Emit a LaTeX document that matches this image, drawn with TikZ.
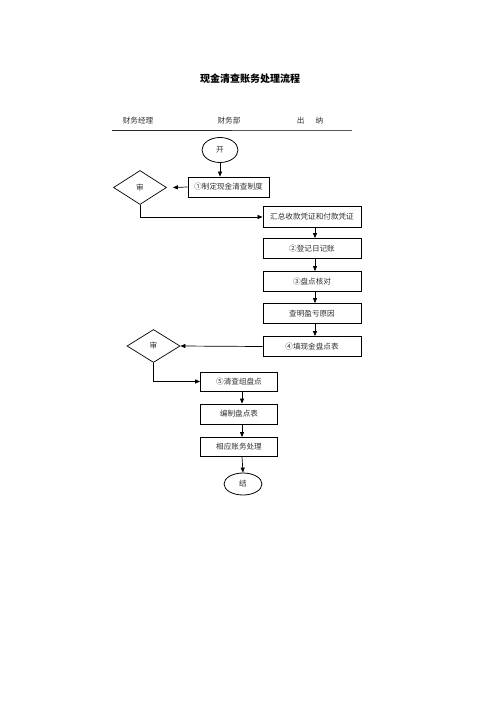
\documentclass[tikz,border=0pt]{standalone}
\usepackage{fontspec}
\setmainfont{Noto Sans CJK SC}
\newfontfamily\cjkbold{Noto Sans CJK SC}[BoldFont={Noto Sans CJK SC Bold}]
\usetikzlibrary{shapes.geometric,arrows.meta}
\begin{document}
\begin{tikzpicture}[x=1pt,y=-1pt,
  every node/.style={font=\fontsize{7.6}{9}\selectfont\addfontfeature{Color=303030}},
  box/.style={draw,line width=0.8pt,minimum height=20pt,inner sep=0pt},
  oval/.style={draw,ellipse,line width=0.8pt,inner sep=0pt},
  dia/.style={draw,diamond,line width=0.7pt,inner sep=0pt,minimum width=53pt,minimum height=34pt},
  arr/.style={line width=0.7pt,-{Triangle[length=5pt,width=4pt]}},
  ln/.style={line width=0.7pt}]
\path[fill=white] (0,0) rectangle (496,702);
\useasboundingbox (0,0) rectangle (496,702);
\node[font=\fontsize{10}{12}\selectfont\bfseries] (title) at (250,79) {现金清查账务处理流程};
\node (h1) at (138,121) {财务经理};
\node (h2) at (229,121) {财务部};
\node (h3) at (310,121) {出\hspace{11pt}纳};
\coordinate (la) at (112,130);
\coordinate (lb) at (232,130);
\coordinate (lc) at (352,130);
\draw[line width=1pt,black!85] (la) -- (lb);
\draw[line width=0.9pt,black!65] (lb) -- (lc);
\node[oval,minimum width=36pt,minimum height=25pt] (start) at (220,150) {开};
\node[box,minimum width=81pt] (b1) at (228.5,187) {①制定现金清查制度};
\node[dia] (d1) at (140,187.5) {审};
\node[box,minimum width=98pt,minimum height=21pt] (b2) at (312,217) {汇总收款凭证和付款凭证};
\node[box,minimum width=98pt] (b3) at (312,248.5) {②登记日记账};
\node[box,minimum width=98pt] (b4) at (312,281.5) {③盘点核对};
\node[box,minimum width=98pt] (b5) at (312,313.5) {查明盈亏原因};
\node[box,minimum width=98pt] (b6) at (312,346.5) {④填现金盘点表};
\node[dia,minimum height=33pt] (d2) at (153.5,346) {审};
\node[box,minimum width=77pt,minimum height=19pt] (b7) at (239,381.5) {⑤清查组盘点};
\node[box,minimum width=77pt] (b8) at (239,414) {编制盘点表};
\node[box,minimum width=77pt,minimum height=19pt] (b9) at (239,447) {相应账务处理};
\node[oval,minimum width=38pt,minimum height=22pt] (end) at (243,484) {结};
\draw[arr] (start.south) -- (start.south |- b1.north);
\draw[arr] (b1.west) -- ([xshift=6pt]d1.east);
\draw[arr] (d1.south) |- (b2.west);
\draw[arr] ([xshift=3pt]b2.south) -- ([xshift=3pt]b3.north);
\draw[arr] ([xshift=3pt]b3.south) -- ([xshift=3pt]b4.north);
\draw[arr] ([xshift=3pt]b4.south) -- ([xshift=3pt]b5.north);
\draw[arr] ([xshift=3pt]b5.south) -- ([xshift=3pt]b6.north);
\draw[arr] (b6.west) -- (d2.east);
\draw[arr] (d2.south) |- (b7.west);
\draw[arr] ([xshift=3pt]b7.south) -- ([xshift=3pt]b8.north);
\draw[arr] ([xshift=3pt]b8.south) -- ([xshift=3pt]b9.north);
\draw[arr] ([xshift=3pt]b9.south) -- (end.north);
\end{tikzpicture}
\end{document}
